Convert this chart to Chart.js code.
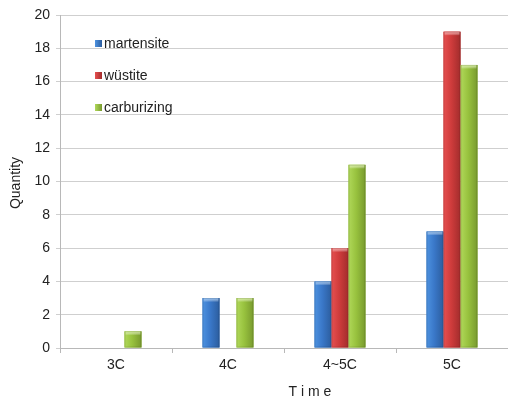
<!DOCTYPE html>
<html>
<head>
<meta charset="utf-8">
<script src="https://cdn.jsdelivr.net/npm/chart.js@4/dist/chart.umd.min.js"></script>
<style>
  html, body { margin: 0; padding: 0; background: #ffffff; }
  #wrap { width: 508px; height: 398px; }
</style>
</head>
<body>
<div id="wrap"><canvas id="c" width="508" height="398"></canvas></div>
<script>
const categories = ['3C', '4C', '4~5C', '5C'];
const martensite = [0, 3, 4, 7];
const wustite = [0, 0, 6, 19];
const carburizing = [1, 3, 11, 17];
const yTicks = [0, 2, 4, 6, 8, 10, 12, 14, 16, 18, 20];
const xTitle = 'T i m e';
const yTitle = 'Quantity';

// light / base / dark shades for the shaded bar faces
const shades = [
  { light: '#4d92e0', base: '#3a78c9', dark: '#2c5d9e', cap: '#8dbbee' },
  { light: '#e65050', base: '#cf3c3c', dark: '#a22c2c', cap: '#f29090' },
  { light: '#b0d85a', base: '#98c23e', dark: '#789a2e', cap: '#d2ec96' }
];

const FONT = '"Liberation Sans", Arial, sans-serif';
const TEXT = '#222222';

// paints each bar with a horizontal gradient and a lighter top cap
const barShading = {
  id: 'barShading',
  afterDatasetsDraw(chart) {
    const ctx = chart.ctx;
    ctx.save();
    chart.data.datasets.forEach((ds, i) => {
      const meta = chart.getDatasetMeta(i);
      const s = shades[i];
      meta.data.forEach((bar, j) => {
        if (!ds.data[j]) return;
        const p = bar.getProps(['x', 'y', 'base', 'width'], true);
        const left = p.x - p.width / 2;
        const top = Math.min(p.y, p.base);
        const h = Math.abs(p.base - p.y);
        const g = ctx.createLinearGradient(left, 0, left + p.width, 0);
        g.addColorStop(0, s.light);
        g.addColorStop(0.45, s.base);
        g.addColorStop(1, s.dark);
        ctx.fillStyle = g;
        ctx.fillRect(left, top, p.width, h);
        const cg = ctx.createLinearGradient(0, top, 0, top + 4);
        cg.addColorStop(0, s.cap);
        cg.addColorStop(1, 'rgba(255,255,255,0)');
        ctx.fillStyle = cg;
        ctx.fillRect(left + 1, top, p.width - 2, 4);
        ctx.strokeStyle = 'rgba(0,0,0,0.12)';
        ctx.lineWidth = 1;
        ctx.strokeRect(left + 0.5, top + 0.5, p.width - 1, h - 1);
      });
    });
    ctx.restore();
  }
};

// legend inside the plot area plus the two axis titles
const annotations = {
  id: 'annotations',
  afterDraw(chart) {
    const ctx = chart.ctx;
    ctx.save();
    ctx.font = '14px ' + FONT;
    ctx.textBaseline = 'alphabetic';
    ctx.textAlign = 'left';
    chart.data.datasets.forEach((ds, i) => {
      const base = 48 + i * 32;
      const s = shades[i];
      const g = ctx.createLinearGradient(95, 0, 102, 0);
      g.addColorStop(0, s.light);
      g.addColorStop(1, s.dark);
      ctx.fillStyle = g;
      ctx.fillRect(95, base - 8, 7, 7);
      ctx.fillStyle = TEXT;
      ctx.fillText(ds.label, 104, base);
    });

    ctx.textAlign = 'center';
    ctx.fillText(xTitle, 310, 396);

    ctx.translate(16, 183);
    ctx.rotate(-Math.PI / 2);
    ctx.textBaseline = 'middle';
    ctx.fillText(yTitle, 0, 0);
    ctx.restore();
  }
};

new Chart(document.getElementById('c'), {
  type: 'bar',
  data: {
    labels: categories,
    datasets: [
      { label: 'martensite', data: martensite, backgroundColor: shades[0].base },
      { label: 'wüstite', data: wustite, backgroundColor: shades[1].base },
      { label: 'carburizing', data: carburizing, backgroundColor: shades[2].base }
    ]
  },
  options: {
    responsive: false,
    animation: false,
    devicePixelRatio: 1,
    categoryPercentage: 0.455,
    barPercentage: 1.0,
    layout: { padding: { top: 15, right: 0, bottom: 0, left: 0 } },
    plugins: {
      legend: { display: false },
      tooltip: { enabled: false }
    },
    scales: {
      x: {
        afterFit(scale) { scale.height = 50; },
        border: { color: '#b8b8b8' },
        grid: { offset: true, drawOnChartArea: false, drawTicks: true, tickLength: 5, color: '#b8b8b8' },
        ticks: { color: TEXT, font: { family: FONT, size: 14 }, padding: 4 }
      },
      y: {
        min: 0, max: 20,
        afterFit(scale) { scale.width = 60; },
        afterBuildTicks(scale) { scale.ticks = yTicks.map(v => ({ value: v })); },
        border: { color: '#b8b8b8' },
        grid: { color: '#cfcfcf', tickLength: 4, drawTicks: true },
        ticks: { color: TEXT, font: { family: FONT, size: 14 }, padding: 6 }
      }
    }
  },
  plugins: [barShading, annotations]
});
</script>
</body>
</html>
